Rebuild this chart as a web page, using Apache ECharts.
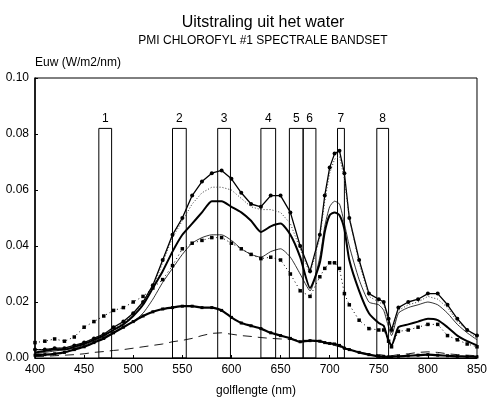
<!DOCTYPE html>
<html>
<head>
<meta charset="utf-8">
<script src="https://cdn.jsdelivr.net/npm/echarts@6.0.0/dist/echarts.min.js"></script>
<style>
  html, body { margin: 0; padding: 0; background: #fff; }
  #chart { width: 490px; height: 402px; }
</style>
</head>
<body>
<div id="chart"></div>
<script>
// wavelengths (nm)
const wavelengths = [400,410,420,430,440,450,460,470,480,490,500,510,520,530,540,550,560,570,580,590,600,610,620,630,640,650,660,670,680,690,695,700,705,710,715,720,730,740,750,755,760,763,770,780,790,800,810,820,830,840,850];

// Euw per spectrum (W/m2/nm)
const circlesLine = [.003,.003,.0035,.0035,.0045,.0055,.007,.0085,.011,.013,.016,.020,.026,.035,.044,.050,.058,.063,.066,.067,.064,.059,.055,.054,.058,.058,.052,.040,.031,.044,.058,.068,.073,.074,.066,.050,.035,.023,.021,.020,.014,.010,.018,.020,.021,.023,.023,.019,.014,.010,.008];
const dottedLine = [.003,.003,.0035,.0035,.0045,.0055,.007,.0085,.0105,.0125,.0155,.0195,.025,.034,.043,.049,.055,.059,.061,.061,.060,.057,.054,.053,.053,.052,.048,.039,.030,.043,.056,.066,.071,.072,.064,.050,.034,.022,.020,.019,.013,.009,.017,.019,.020,.022,.021,.018,.013,.010,.007];
const thickLine = [.002,.0025,.003,.003,.004,.005,.0065,.008,.010,.012,.015,.019,.025,.031,.038,.044,.048,.052,.056,.056,.054,.052,.049,.045,.047,.048,.044,.036,.025,.034,.045,.051,.052,.051,.046,.035,.024,.016,.0125,.0115,.006,.0045,.011,.012,.013,.014,.0135,.011,.008,.006,.0045];
const thinLine = [.0015,.002,.0025,.003,.0035,.0045,.006,.0075,.009,.011,.013,.016,.021,.027,.032,.037,.041,.043,.044,.044,.042,.039,.037,.036,.038,.039,.036,.030,.024,.036,.047,.054,.056,.055,.048,.040,.028,.020,.019,.017,.011,.008,.016,.018,.019,.020,.019,.016,.012,.009,.0065];
const squaresLine = [.0055,.006,.0068,.006,.0075,.011,.013,.015,.017,.018,.020,.022,.025,.028,.033,.039,.041,.042,.043,.043,.041,.039,.037,.0355,.036,.035,.030,.024,.022,.029,.032,.034,.034,.032,.023,.019,.0135,.0105,.010,.010,.006,.004,.0095,.010,.011,.012,.012,.008,.0065,.005,.004];
const lowThickLine = [.001,.0012,.0015,.002,.003,.004,.0055,.007,.009,.011,.013,.015,.0165,.0175,.018,.0185,.0185,.018,.018,.017,.0145,.0125,.0115,.0105,.009,.008,.007,.0058,.0062,.006,.0055,.0052,.005,.0045,.0035,.003,.002,.0012,.0006,.0005,.0004,.0004,.0006,.0008,.001,.0012,.001,.0008,.0006,.0005,.0004];
const dashedLine = [.0005,.0006,.0008,.001,.0012,.0015,.002,.0023,.0027,.003,.0035,.004,.0045,.005,.0058,.0063,.007,.008,.0088,.009,.0085,.008,.0077,.0073,.007,.0068,.0066,.0064,.0062,.0058,.0055,.005,.0045,.004,.0035,.003,.002,.0015,.0012,.001,.0008,.0008,.0012,.0015,.002,.0022,.002,.0015,.0012,.001,.0008];

// spectral bands
const bandLabels = ['1','2','3','4','5','6','7','8'];
const bandStart = [465,540,586,630,659,673,708,748];
const bandEnd = [478,554,599,645,673,686,715,760];
const bandTop = 0.082;

const FONT = '"Liberation Sans", Arial, Helvetica, sans-serif';

const pairs = vals => wavelengths.map((w, i) => [w, vals[i]]);

const chart = echarts.init(document.getElementById('chart'));

const bandAreas = bandLabels.map((lab, i) => [
  { name: lab, xAxis: bandStart[i], yAxis: 0 },
  { xAxis: bandEnd[i], yAxis: bandTop }
]);

const option = {
  animation: false,
  backgroundColor: '#fff',
  title: [
    {
      text: 'Uitstraling uit het water',
      left: 258, top: 10, textAlign: 'center',
      textStyle: { fontFamily: FONT, fontSize: 16, fontWeight: 'normal', color: '#000' }
    },
    {
      text: 'PMI CHLOROFYL #1 SPECTRALE BANDSET',
      left: 258, top: 30, textAlign: 'center',
      textStyle: { fontFamily: FONT, fontSize: 12, fontWeight: 'normal', color: '#000' }
    }
  ],
  grid: {
    left: 35, right: 8, top: 78, bottom: 44,
    show: true, borderColor: '#000', borderWidth: 1, backgroundColor: 'transparent'
  },
  xAxis: {
    type: 'value', min: 400, max: 850, interval: 50,
    name: 'golflengte (nm)', nameLocation: 'middle', nameGap: 27,
    nameTextStyle: { fontFamily: FONT, fontSize: 12, color: '#000' },
    axisLine: { lineStyle: { color: '#000', width: 1 } },
    axisTick: { inside: true, length: 3, lineStyle: { color: '#000' } },
    axisLabel: { fontFamily: FONT, fontSize: 12, color: '#000', margin: 6 },
    splitLine: { show: false }
  },
  yAxis: {
    type: 'value', min: 0, max: 0.1, interval: 0.02,
    name: 'Euw (W/m2/nm)', nameLocation: 'end', nameGap: 9,
    nameTextStyle: { fontFamily: FONT, fontSize: 12, color: '#000', align: 'left', padding: [0, 0, 0, 0] },
    axisLine: { lineStyle: { color: '#000', width: 1.5 } },
    axisTick: { inside: true, length: 3, lineStyle: { color: '#000' } },
    axisLabel: { fontFamily: FONT, fontSize: 12, color: '#000', margin: 6, formatter: v => v.toFixed(2) },
    splitLine: { show: false }
  },
  series: [
    {
      name: 'bands', type: 'line', data: [], silent: true,
      markArea: {
        silent: true,
        itemStyle: { color: 'rgba(0,0,0,0)', borderColor: '#000', borderWidth: 1 },
        label: { show: true, position: 'top', distance: 3, formatter: '{b}', fontFamily: FONT, fontSize: 12, color: '#000' },
        data: bandAreas
      }
    },
    {
      name: 'circles', type: 'line', data: pairs(circlesLine),
      symbol: 'circle', symbolSize: 4, showSymbol: true,
      lineStyle: { color: '#000', width: 1.3 }, itemStyle: { color: '#000' }
    },
    {
      name: 'dotted', type: 'line', data: pairs(dottedLine), symbol: 'none',
      lineStyle: { color: '#333', width: 1, type: [1, 2] }
    },
    {
      name: 'thick', type: 'line', data: pairs(thickLine), symbol: 'none', smooth: 0.2,
      lineStyle: { color: '#000', width: 2 }
    },
    {
      name: 'thin', type: 'line', data: pairs(thinLine), symbol: 'none', smooth: 0.2,
      lineStyle: { color: '#000', width: 0.8 }
    },
    {
      name: 'squares', type: 'line', data: pairs(squaresLine),
      symbol: 'rect', symbolSize: 3.5, showSymbol: true,
      lineStyle: { color: '#000', width: 1, type: [1, 3] }, itemStyle: { color: '#000' }
    },
    {
      name: 'lowThick', type: 'line', data: pairs(lowThickLine),
      symbol: 'rect', symbolSize: 3, showSymbol: true, smooth: 0.2,
      lineStyle: { color: '#000', width: 2.2 }, itemStyle: { color: '#000' }
    },
    {
      name: 'dashed', type: 'line', data: pairs(dashedLine), symbol: 'none',
      lineStyle: { color: '#000', width: 0.9, type: [9, 6] }
    }
  ]
};

chart.setOption(option);
</script>
</body>
</html>
